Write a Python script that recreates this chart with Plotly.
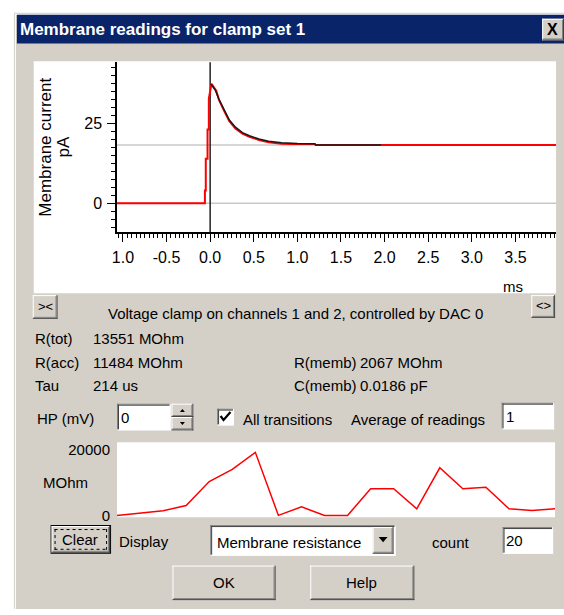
import plotly.graph_objects as go

# ---------------- data ----------------
# membrane current trace (red, recorded) : time in ms, current in pA
trace_time = [-1.07, -0.06, -0.06, -0.05, -0.05, -0.03, -0.03, -0.015, -0.015, 0.015,
              0.07, 0.10, 0.16, 0.22, 0.29, 0.37, 0.45, 0.56, 0.67, 0.82, 0.95, 1.20, 1.21, 2.00, 3.97]
trace_current = [0.0, 0.0, 4.0, 4.0, 13.9, 13.9, 23.1, 23.1, 32.7, 37.3,
                 35.2, 32.4, 28.9, 25.7, 23.4, 21.8, 20.8, 19.8, 19.1, 18.6, 18.5, 18.5, 18.2, 18.2, 18.2]
# exponential fit (black)
fit_time = [0.01, 0.06, 0.10, 0.16, 0.22, 0.29, 0.37, 0.45, 0.56, 0.67, 0.82, 1.00, 1.20, 1.21, 1.96]
fit_current = [37.3, 35.3, 32.6, 29.1, 26.0, 23.8, 22.1, 21.1, 20.1, 19.4, 18.9, 18.7, 18.6, 18.2, 18.2]
baseline_levels = [0.0, 18.2]          # grey reference lines, pA
step_time = 0.0                        # voltage step onset, ms

x_tick_vals = [-1.0, -0.5, 0.0, 0.5, 1.0, 1.5, 2.0, 2.5, 3.0, 3.5]
x_tick_text = ["1.0", "-0.5", "0.0", "0.5", "1.0", "1.5", "2.0", "2.5", "3.0", "3.5"]
y_tick_vals = [0, 25]
y_tick_text = ["0", "25"]

# membrane resistance history (20 readings), MOhm
reading_index = list(range(20))
resistance = [100, 800, 1500, 3100, 10400, 14100, 19300, 100, 2700, 100,
              100, 8200, 8200, 2100, 14600, 8200, 8700, 2100, 1600, 2100]
res_tick_vals = [0, 20000]
res_tick_text = ["0", "20000"]

# ---------------- page geometry helpers ----------------
W, H = 564, 615
BG = "#D4D0C8"
SANS = "Liberation Sans, Arial, sans-serif"
FS = 15

def px(x):
    return x / W

def py(y):
    return 1 - y / H

shapes = []
annotations = []

def rect(x0, y0, x1, y1, fill, line=None, lw=0):
    shapes.append(dict(type="rect", xref="paper", yref="paper", layer="below",
                       x0=px(x0), x1=px(x1), y0=py(y1), y1=py(y0),
                       fillcolor=fill, line=dict(width=lw, color=line or fill)))

def seg(x0, y0, x1, y1, color, lw=1, dash=None, layer="below"):
    d = dict(width=lw, color=color)
    if dash:
        d["dash"] = dash
    shapes.append(dict(type="line", xref="paper", yref="paper", layer=layer,
                       x0=px(x0), x1=px(x1), y0=py(y0), y1=py(y1), line=d))

def poly(points, color, layer="below"):
    path = "M " + " L ".join(f"{px(x):.5f},{py(y):.5f}" for x, y in points) + " Z"
    shapes.append(dict(type="path", xref="paper", yref="paper", layer=layer,
                       path=path, fillcolor=color, line=dict(width=0, color=color)))

def raised(x0, y0, x1, y1):
    rect(x0, y0, x1, y1, BG)
    seg(x0, y0 + 0.5, x1, y0 + 0.5, "#FFFFFF")
    seg(x0 + 0.5, y0, x0 + 0.5, y1, "#FFFFFF")
    seg(x0, y1 - 0.5, x1, y1 - 0.5, "#404040")
    seg(x1 - 0.5, y0, x1 - 0.5, y1, "#404040")
    seg(x0 + 1, y1 - 1.5, x1 - 1, y1 - 1.5, "#808080")
    seg(x1 - 1.5, y0 + 1, x1 - 1.5, y1 - 1, "#808080")

def sunken(x0, y0, x1, y1, fill="#FFFFFF"):
    rect(x0, y0, x1, y1, fill)
    seg(x0, y0 + 0.5, x1, y0 + 0.5, "#808080")
    seg(x0 + 0.5, y0, x0 + 0.5, y1, "#808080")
    seg(x0, y1 - 0.5, x1, y1 - 0.5, "#FFFFFF")
    seg(x1 - 0.5, y0, x1 - 0.5, y1, "#FFFFFF")
    seg(x0 + 1, y0 + 1.5, x1 - 1, y0 + 1.5, "#404040")
    seg(x0 + 1.5, y0 + 1, x0 + 1.5, y1 - 1, "#404040")

def text(s, x, y, anchor="left", size=FS, color="#000000", family=SANS, angle=0, bold=False):
    if bold:
        s = f"<b>{s}</b>"
    annotations.append(dict(text=s, x=px(x), y=py(y), xref="paper", yref="paper",
                            xanchor=anchor, yanchor="middle", showarrow=False,
                            textangle=angle, borderpad=0,
                            font=dict(family=family, size=size, color=color)))

# ---------------- dialog chrome ----------------
rect(9, 12, 565, 616, BG)
seg(10.5, 13, 10.5, 616, "#FFFFFF")
seg(10, 13.5, 565, 13.5, "#FFFFFF")
rect(12, 14, 565, 43, "#0A246A")
text("Membrane readings for clamp set 1", 14, 29, size=17, color="#FFFFFF", bold=True)
raised(542, 18, 564, 40)
text("X", 552.5, 29, anchor="center", size=16, bold=True)

# plot panels
rect(29, 61, 556, 296, "#FFFFFF")
rect(113, 447, 555, 523, "#FFFFFF")

# small buttons under the plot
raised(28, 298, 53, 322)
text("&gt;&lt;", 40.5, 310, anchor="center", size=13)
raised(531, 298, 555, 321)
text("&lt;&gt;", 543, 309, anchor="center", size=13)

text("Voltage clamp on channels 1 and 2, controlled by DAC 0", 103, 317)
text("R(tot)", 29, 342)
text("13551 MOhm", 88, 342)
text("R(acc)", 29, 366)
text("11484 MOhm", 88, 366)
text("R(memb)", 291, 366)
text("2067 MOhm", 357, 366)
text("Tau", 29, 390)
text("214 us", 88, 390)
text("C(memb)", 291, 390)
text("0.0186 pF", 357, 390)

# HP row
text("HP (mV)", 31, 423)
sunken(113, 408, 167, 435)
text("0", 116, 422)
raised(168, 408, 190, 421.5)
raised(168, 421.5, 190, 435)
poly([(176.5, 416.5), (181.5, 416.5), (179, 413.5)], "#000000")
poly([(176.5, 426.5), (181.5, 426.5), (179, 429.5)], "#000000")
sunken(214, 413, 231, 430)
shapes.append(dict(type="path", xref="paper", yref="paper", layer="above",
                   path=f"M {px(217.5)},{py(420.5)} L {px(220.5)},{py(424.5)} L {px(227.5)},{py(416.5)}",
                   line=dict(width=2.2, color="#000000")))
text("All transitions", 239, 424)
text("Average of readings", 348, 424)
sunken(501, 407, 554, 434)
text("1", 504, 421)

# bottom chart labels
text("MOhm", 61, 488, anchor="center")

# bottom controls
rect(46, 531, 107, 560, "#000000")
raised(47, 532, 106, 559)
seg(50, 535.5, 103, 535.5, "#000000", dash="dot")
seg(50, 555.5, 103, 555.5, "#000000", dash="dot")
seg(50.5, 535, 50.5, 556, "#000000", dash="dot")
seg(102.5, 535, 102.5, 556, "#000000", dash="dot")
text("Clear", 76, 546, anchor="center")
text("Display", 114, 548)
sunken(207, 531, 394, 562)
text("Membrane resistance", 213, 549)
raised(371, 533, 392, 560)
poly([(377, 543), (386, 543), (381.5, 548.5)], "#000000")
text("count", 430, 549)
sunken(502, 533, 553, 560)
text("20", 504, 547)
raised(169, 572, 273, 607)
text("OK", 221, 589, anchor="center")
raised(308, 572, 413, 607)
text("Help", 360, 589, anchor="center")

# axis titles of the membrane current plot
text("Membrane current", 40, 148, anchor="center", size=17, angle=-90)
text("pA", 59, 148, anchor="center", size=17, angle=-90)
text("ms", 513, 289, anchor="center")

# reference lines inside the current plot
for lvl in baseline_levels:
    shapes.append(dict(type="line", xref="x domain", yref="y", layer="below",
                       x0=0, x1=1, y0=lvl, y1=lvl, line=dict(width=1.5, color="#C8C8C8")))
shapes.append(dict(type="line", xref="x", yref="y domain", layer="below",
                   x0=step_time, x1=step_time, y0=0, y1=1, line=dict(width=1.5, color="#222222")))

# ---------------- figure ----------------
fig = go.Figure()
fig.add_trace(go.Scatter(x=trace_time, y=trace_current, mode="lines",
                         line=dict(color="#FF0000", width=2), xaxis="x", yaxis="y",
                         hoverinfo="skip", showlegend=False))
fig.add_trace(go.Scatter(x=fit_time, y=fit_current, mode="lines",
                         line=dict(color="#1A1A1A", width=1.5), xaxis="x", yaxis="y",
                         hoverinfo="skip", showlegend=False))
fig.add_trace(go.Scatter(x=reading_index, y=resistance, mode="lines",
                         line=dict(color="#FF0000", width=1.5), xaxis="x2", yaxis="y2",
                         hoverinfo="skip", showlegend=False))

tick_font = dict(family=SANS, size=16, color="#000000")
fig.update_layout(
    width=W, height=H, autosize=False,
    margin=dict(l=0, r=0, t=0, b=0, pad=0),
    paper_bgcolor="#FFFFFF", plot_bgcolor="rgba(0,0,0,0)",
    showlegend=False,
    shapes=shapes, annotations=annotations,
    xaxis=dict(domain=[px(113), px(556)], anchor="y", range=[-1.068, 3.966],
               tickmode="array", tickvals=x_tick_vals, ticktext=x_tick_text,
               ticks="outside", ticklen=8, tickwidth=1, tickcolor="#000000",
               minor=dict(ticks="outside", ticklen=4, tickwidth=1, tickcolor="#000000",
                          tickmode="linear", tick0=0, dtick=0.05, showgrid=False),
               showline=True, linecolor="#000000", linewidth=1.5,
               showgrid=False, zeroline=False, tickfont=tick_font, ticklabelstandoff=2),
    yaxis=dict(domain=[py(234), py(62)], anchor="x", range=[-8.95, 44.1],
               tickmode="array", tickvals=y_tick_vals, ticktext=y_tick_text,
               ticks="outside", ticklen=8, tickwidth=1, tickcolor="#000000",
               minor=dict(ticks="outside", ticklen=4, tickwidth=1, tickcolor="#000000",
                          tickmode="linear", tick0=0, dtick=2.5, showgrid=False),
               showline=True, linecolor="#000000", linewidth=1.5,
               showgrid=False, zeroline=False, tickfont=tick_font, ticklabelstandoff=2),
    xaxis2=dict(domain=[px(113), px(555)], anchor="y2", range=[0, 19],
                visible=False),
    yaxis2=dict(domain=[py(523), py(447)], anchor="x2", range=[-450, 22400],
                tickmode="array", tickvals=res_tick_vals, ticktext=res_tick_text,
                ticks="", showline=False, showgrid=False, zeroline=False,
                tickfont=dict(family=SANS, size=FS, color="#000000"), ticklabelstandoff=6),
)

fig.write_html("out.html", config={"displayModeBar": False})
